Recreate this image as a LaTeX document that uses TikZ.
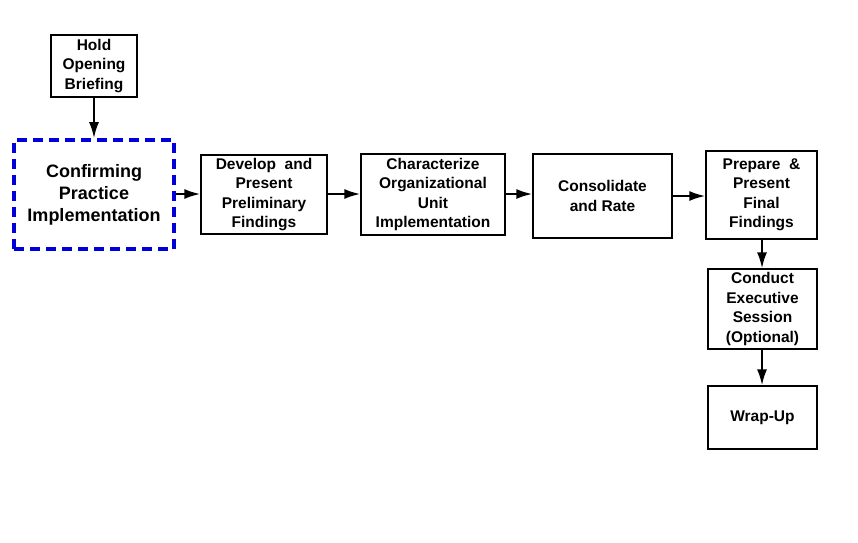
\documentclass[tikz,border=0pt]{standalone}
\usepackage{fontspec}
\setmainfont{Liberation Sans}
\usetikzlibrary{arrows.meta}
\begin{document}
\begin{tikzpicture}[x=1pt,y=-1pt,
  box/.style={draw,line width=1.2pt,align=center,inner sep=0pt,font=\bfseries\fontsize{15.5}{19.5}\selectfont},
  dbox/.style={draw=blue!85!black,line width=3.6pt,dash pattern=on 10pt off 6pt,align=center,inner sep=0pt,font=\bfseries\fontsize{18}{22}\selectfont},
  conn/.style={line width=2.2pt,-{Latex[length=16pt,width=10pt]}}]
\useasboundingbox[fill=white] (0,0) rectangle (858,542);
\node[box,minimum width=86pt,minimum height=62pt] (hold) at (94,66) {Hold\\Opening\\Briefing};
\node[dbox,minimum width=160pt,minimum height=109pt] (conf) at (94,194.5) {Confirming\\Practice\\Implementation};
\node[box,minimum width=126pt,minimum height=79pt] (dev) at (264,194.5) {Develop\ \ and\\Present\\Preliminary\\Findings};
\node[box,minimum width=144pt,minimum height=81pt] (char) at (433,194.5) {Characterize\\Organizational\\Unit\\Implementation};
\node[box,minimum width=139pt,minimum height=84pt] (cons) at (602.5,196) {Consolidate\\and Rate};
\node[box,minimum width=111pt,minimum height=88pt] (prep) at (761.5,195) {Prepare \ \&\\Present\\Final\\Findings};
\node[box,minimum width=109pt,minimum height=80pt] (exec) at (762.5,309) {Conduct\\Executive\\Session\\(Optional)};
\node[box,minimum width=109pt,minimum height=63pt] (wrap) at (762.5,417.5) {Wrap-Up};
\draw[conn] (hold) -- (conf);
\draw[conn] (conf.east |- 0,194) -- (dev.west |- 0,194);
\draw[conn] (dev.east |- 0,194) -- (char.west |- 0,194);
\draw[conn] (char.east |- 0,194) -- (cons.west |- 0,194);
\draw[conn] (cons.east |- 0,196) -- (prep.west |- 0,196);
\draw[conn] (prep.south -| 762,0) -- (exec.north -| 762,0);
\draw[conn] (exec.south -| 762,0) -- (wrap.north -| 762,0);
\end{tikzpicture}
\end{document}
